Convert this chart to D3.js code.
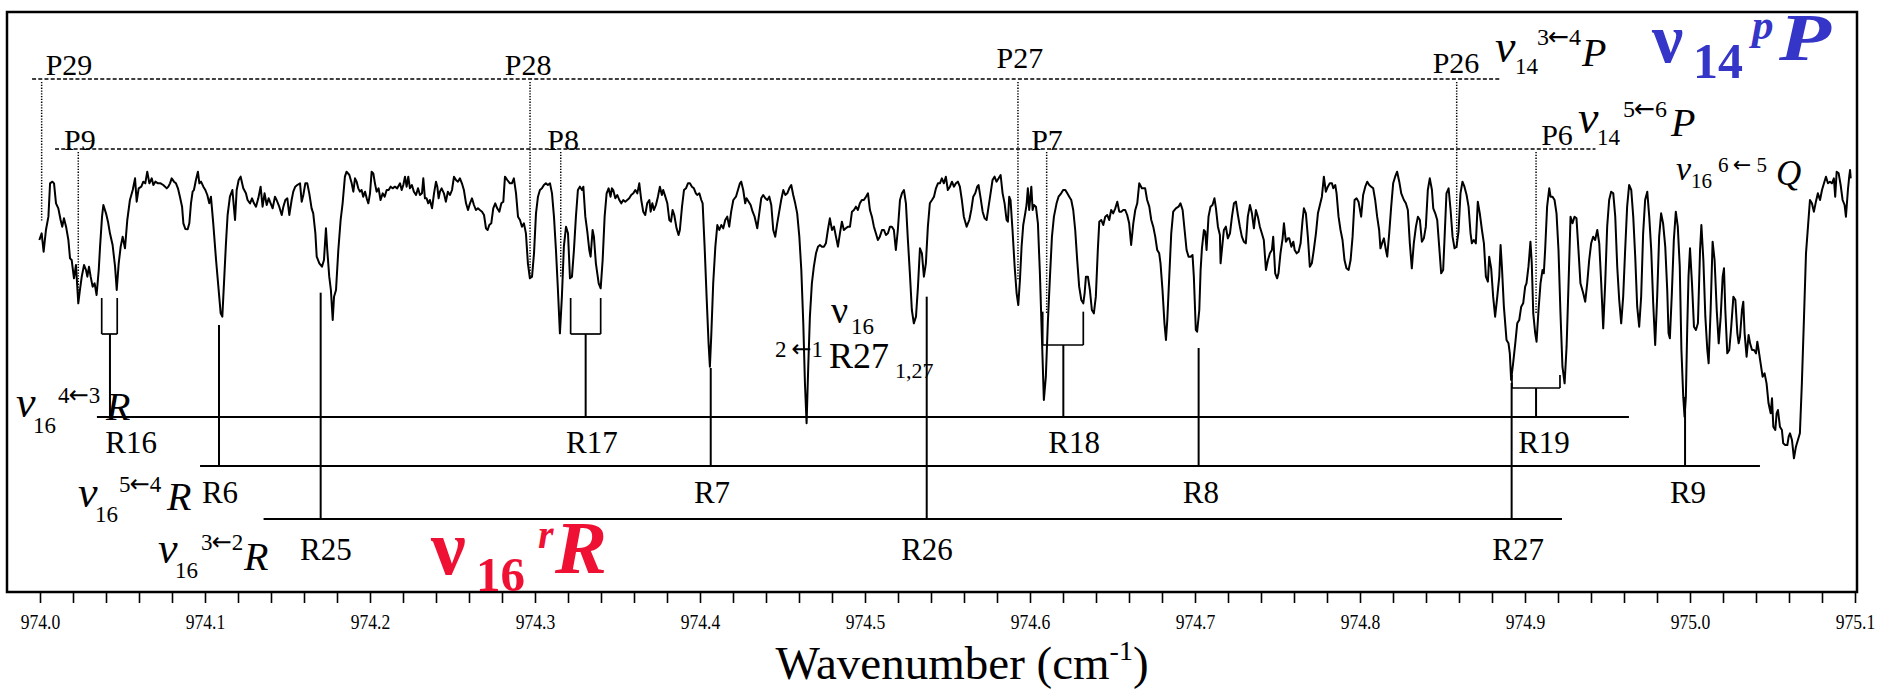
<!DOCTYPE html>
<html><head><meta charset="utf-8">
<script src="https://cdn.jsdelivr.net/npm/d3@7"></script>
<style>
body{margin:0;background:#fff;}
svg text{font-family:"Liberation Serif","Times New Roman",serif;}
</style></head><body>
<svg id="chart" width="1889" height="690"></svg>
<script>
// ---------------- DATA ----------------
// spectrum: [wavenumber (cm-1), relative transmission (arb. units)]
const spectrum = [
[973.9996,75],[974.0010,77],[974.0022,71.5],[974.0036,78],[974.0051,82],[974.0061,92],[974.0075,92.5],[974.0085,92],[974.0097,86],[974.0111,84.5],[974.0125,81],[974.0135,79],[974.0145,81.5],[974.0158,79],[974.0172,75],[974.0182,69.5],[974.0192,69],[974.0206,63.5],[974.0218,67.5],[974.0232,56],[974.0242,60],[974.0253,64],[974.0267,67.5],[974.0279,66],[974.0287,64],[974.0297,67],[974.0307,64],[974.0319,61],[974.0331,62],[974.0343,58.5],[974.0356,66],[974.0364,73],[974.0376,82],[974.0384,85.5],[974.0400,83],[974.0412,80.5],[974.0424,77],[974.0440,73.5],[974.0455,67],[974.0465,60],[974.0477,68],[974.0489,73],[974.0501,76],[974.0515,72.5],[974.0529,81],[974.0545,87],[974.0562,90],[974.0576,93.5],[974.0586,86.5],[974.0598,90.5],[974.0614,91],[974.0626,92.5],[974.0638,92],[974.0650,95.5],[974.0663,92],[974.0677,93.5],[974.0687,91.5],[974.0699,92.5],[974.0715,92],[974.0731,92],[974.0747,91.5],[974.0758,91],[974.0768,90.5],[974.0778,91],[974.0788,92],[974.0798,93.5],[974.0812,92.5],[974.0824,92],[974.0836,90.5],[974.0848,88],[974.0861,85],[974.0869,80],[974.0881,78.3],[974.0895,78.2],[974.0905,80],[974.0915,86],[974.0925,89.5],[974.0933,90],[974.0945,93],[974.0957,95.5],[974.0966,92],[974.0976,92.5],[974.0990,91],[974.1002,90],[974.1014,88.5],[974.1026,86],[974.1036,88],[974.1050,80],[974.1067,69],[974.1081,61],[974.1095,53],[974.1105,52],[974.1115,62],[974.1127,74],[974.1137,82.5],[974.1151,88],[974.1166,90],[974.1182,81],[974.1192,90],[974.1204,93],[974.1216,94],[974.1232,90.5],[974.1248,89],[974.1258,87],[974.1273,86],[974.1285,87.5],[974.1297,86],[974.1309,85],[974.1323,87.5],[974.1337,91],[974.1349,85],[974.1361,89],[974.1374,85.5],[974.1386,87.5],[974.1398,86],[974.1410,84.5],[974.1424,88],[974.1434,87],[974.1450,85],[974.1465,82.5],[974.1475,85],[974.1487,87],[974.1499,87.5],[974.1511,82.5],[974.1525,87],[974.1535,89.5],[974.1547,91],[974.1559,91.5],[974.1576,92],[974.1586,86.5],[974.1596,88.5],[974.1608,92],[974.1620,92],[974.1632,89],[974.1646,84.5],[974.1656,83],[974.1669,77],[974.1677,70],[974.1693,68],[974.1709,67],[974.1721,69],[974.1733,78.5],
[974.1741,72],[974.1753,64],[974.1763,60],[974.1774,51],[974.1782,58],[974.1794,60],[974.1808,72],[974.1822,81],[974.1834,86],[974.1848,94],[974.1858,95.5],[974.1875,94.5],[974.1889,92],[974.1899,89.5],[974.1909,93.5],[974.1919,92.5],[974.1929,90.5],[974.1939,89.5],[974.1949,90],[974.1959,88],[974.1970,89.5],[974.1980,87.5],[974.1990,86],[974.2000,89],[974.2010,95.5],[974.2020,95],[974.2030,92],[974.2040,89.5],[974.2052,90.5],[974.2064,87],[974.2077,89],[974.2089,88],[974.2101,90],[974.2113,90],[974.2125,91],[974.2137,90.5],[974.2151,91],[974.2165,90.5],[974.2182,92],[974.2192,90],[974.2202,91.5],[974.2212,94],[974.2222,91],[974.2232,94],[974.2242,90.5],[974.2254,91.5],[974.2266,89.5],[974.2279,88.5],[974.2291,90.5],[974.2303,88.5],[974.2315,89],[974.2323,93.5],[974.2333,87.5],[974.2343,87.5],[974.2353,86],[974.2363,87],[974.2376,84.5],[974.2388,89],[974.2400,92.5],[974.2408,91],[974.2416,87.5],[974.2424,89.5],[974.2434,90.5],[974.2448,89],[974.2460,86.5],[974.2472,89.5],[974.2485,88.5],[974.2497,90],[974.2509,94],[974.2521,93],[974.2533,92.5],[974.2545,93.5],[974.2557,92],[974.2569,90],[974.2582,86],[974.2594,84],[974.2606,86],[974.2618,87.5],[974.2630,85.5],[974.2642,84],[974.2654,84.5],[974.2666,84],[974.2679,83.5],[974.2691,82.5],[974.2703,78.5],[974.2713,78],[974.2723,79.5],[974.2735,80],[974.2747,84.5],[974.2759,86],[974.2771,84.5],[974.2784,83.5],[974.2796,86],[974.2808,86.5],[974.2818,94],[974.2832,93],[974.2848,92],[974.2860,92],[974.2872,93.5],[974.2885,89],[974.2897,82],[974.2909,81],[974.2921,79],[974.2933,80],[974.2945,77],[974.2957,68],[974.2969,63.5],[974.2982,64],[974.2994,71],[974.3006,83],[974.3018,88],[974.3030,90],[974.3042,90.5],[974.3054,91.5],[974.3066,92],[974.3078,91.5],[974.3091,92],[974.3103,89],[974.3115,82],[974.3127,72],[974.3139,60],[974.3151,47],[974.3163,58],[974.3175,73],[974.3188,79],[974.3200,77],[974.3212,63.5],[974.3224,64],[974.3236,72],[974.3248,82],[974.3260,90],[974.3272,91],[974.3285,90],[974.3293,91],[974.3305,82],[974.3317,77.5],[974.3329,72],[974.3337,70],[974.3349,78],[974.3357,76],[974.3369,68],[974.3386,62],[974.3398,60.5],[974.3410,69],[974.3422,82],[974.3434,89],[974.3446,90.5],[974.3458,88],[974.3466,90.5],[974.3474,90],[974.3487,87.5],[974.3499,88.5],[974.3511,87],[974.3523,86],[974.3535,87],[974.3547,86.5],[974.3559,87],[974.3571,87.5],[974.3583,88.5],[974.3596,89],[974.3608,90],[974.3620,89],[974.3632,92],[974.3644,87],[974.3656,83.5],[974.3668,82.5],[974.3680,86],
[974.3693,87],[974.3701,83.5],[974.3711,86],[974.3721,84],[974.3733,85.5],[974.3745,88],[974.3757,91],[974.3769,88.5],[974.3777,90],[974.3790,88],[974.3802,86],[974.3814,81],[974.3824,80.5],[974.3834,84],[974.3844,82.5],[974.3858,78.5],[974.3870,76.5],[974.3878,78],[974.3891,85],[974.3903,90],[974.3915,90.5],[974.3927,92],[974.3939,92],[974.3951,91],[974.3963,90.5],[974.3975,89],[974.3983,88.5],[974.3996,89],[974.4008,87],[974.4016,86],[974.4028,73],[974.4040,58],[974.4052,44],[974.4060,37],[974.4068,46],[974.4080,62],[974.4093,73],[974.4105,79.5],[974.4117,78],[974.4129,79.5],[974.4141,78.5],[974.4153,81],[974.4165,82],[974.4177,79],[974.4189,83.5],[974.4202,87],[974.4218,88],[974.4230,90],[974.4242,92],[974.4250,92.5],[974.4262,90],[974.4274,86],[974.4282,87.5],[974.4295,86.5],[974.4307,85.5],[974.4319,83.5],[974.4331,82],[974.4347,78.5],[974.4359,83],[974.4371,87.5],[974.4383,88.5],[974.4396,87.5],[974.4408,87],[974.4420,88],[974.4432,85.5],[974.4444,78],[974.4456,76],[974.4468,80],[974.4480,83.5],[974.4492,87],[974.4505,90],[974.4517,88.5],[974.4529,89],[974.4541,90.5],[974.4553,91.5],[974.4565,88.5],[974.4577,86],[974.4589,83],[974.4602,76],[974.4614,66],[974.4626,50],[974.4636,32],[974.4646,20],[974.4656,37],[974.4666,52],[974.4678,62],[974.4690,67],[974.4703,71],[974.4715,73],[974.4727,73.5],[974.4739,73],[974.4751,73],[974.4763,74],[974.4775,78],[974.4787,81.5],[974.4800,78],[974.4812,79],[974.4824,76],[974.4836,73],[974.4848,77],[974.4860,80.5],[974.4872,78],[974.4884,78.5],[974.4896,79],[974.4909,79],[974.4921,83.5],[974.4933,84],[974.4945,85],[974.4957,84],[974.4969,86],[974.4981,87],[974.4993,87],[974.5006,88],[974.5018,89],[974.5030,84],[974.5042,82],[974.5054,79],[974.5066,77],[974.5078,75],[974.5090,76],[974.5103,78],[974.5115,78],[974.5127,76.5],[974.5139,77],[974.5151,79],[974.5163,79],[974.5175,78],[974.5187,72],[974.5199,78],[974.5212,87],[974.5224,89],[974.5236,90],[974.5248,86],[974.5260,75],[974.5272,65],[974.5284,54],[974.5296,50],[974.5309,52],[974.5321,61],[974.5333,72.5],[974.5345,71],[974.5357,64],[974.5369,68],[974.5381,79],[974.5393,86],[974.5406,87],[974.5418,88],[974.5430,90.5],[974.5442,92],[974.5454,92],[974.5466,93.5],[974.5478,92],[974.5490,94],[974.5502,90],[974.5515,91],[974.5527,92.5],[974.5539,91],[974.5551,92],[974.5563,92.5],
[974.5575,91],[974.5587,87],[974.5599,82],[974.5616,79],[974.5632,81],[974.5644,84],[974.5656,88],[974.5668,89],[974.5680,91],[974.5688,91.5],[974.5701,87.5],[974.5713,83.5],[974.5725,81.5],[974.5737,81],[974.5749,85],[974.5761,89],[974.5773,93],[974.5785,94],[974.5797,92.5],[974.5810,93.5],[974.5822,94.5],[974.5834,89],[974.5846,86],[974.5858,81],[974.5866,80.5],[974.5874,88],[974.5882,87],[974.5894,78],[974.5907,67],[974.5919,59],[974.5929,55.5],[974.5939,63],[974.5949,73],[974.5959,79.5],[974.5971,83],[974.5979,85.5],[974.5987,90.5],[974.5995,84],[974.6008,91],[974.6016,84],[974.6024,85.5],[974.6036,85],[974.6048,80],[974.6060,65],[974.6072,46],[974.6084,27],[974.6096,34],[974.6108,50],[974.6121,64],[974.6133,76],[974.6145,82],[974.6161,86],[974.6173,88],[974.6189,89],[974.6201,90],[974.6214,90],[974.6226,89],[974.6238,88],[974.6250,87],[974.6262,84],[974.6274,78],[974.6286,69],[974.6298,61],[974.6311,57],[974.6323,56],[974.6331,59],[974.6339,64],[974.6351,64],[974.6363,60],[974.6375,54],[974.6387,53],[974.6399,58],[974.6411,72],[974.6420,80.5],[974.6432,81],[974.6444,79.5],[974.6456,82],[974.6468,82.5],[974.6480,81],[974.6492,84],[974.6504,83],[974.6517,84.5],[974.6529,86.5],[974.6541,83.5],[974.6553,83.5],[974.6565,84],[974.6577,84],[974.6589,82.5],[974.6601,80],[974.6613,73.5],[974.6626,80],[974.6638,84],[974.6650,86],[974.6662,92],[974.6678,90.5],[974.6690,90.5],[974.6698,90.5],[974.6710,87],[974.6723,85],[974.6735,81],[974.6747,79],[974.6759,76],[974.6771,72],[974.6783,71],[974.6791,68],[974.6803,60],[974.6815,50],[974.6824,45],[974.6832,51],[974.6844,64],[974.6856,77],[974.6868,83.5],[974.6884,84.5],[974.6900,85],[974.6912,86],[974.6925,84],[974.6937,78],[974.6949,72],[974.6961,70],[974.6973,70],[974.6985,70.5],[974.6993,64],[974.7005,48],[974.7013,47.5],[974.7026,54],[974.7034,66],[974.7042,72.5],[974.7054,78],[974.7062,77.5],[974.7070,72],[974.7082,82],[974.7094,85],[974.7106,85.5],[974.7118,87.5],[974.7127,84.5],[974.7139,79],[974.7151,76.5],[974.7155,68],[974.7163,72],[974.7175,78],[974.7187,79],[974.7199,75.5],[974.7212,77],[974.7224,82],[974.7236,86],[974.7248,86.5],[974.7260,82.5],[974.7272,79],[974.7284,76],[974.7296,74.5],[974.7308,74],[974.7320,82],[974.7333,85.5],[974.7345,83],[974.7357,78.5],[974.7369,84],[974.7381,82],[974.7393,79],[974.7405,77],[974.7417,75],[974.7430,66],[974.7442,69],[974.7454,71],[974.7466,72],[974.7474,76],[974.7486,65],[974.7498,63.5],[974.7506,65],[974.7518,71],[974.7531,75.5],[974.7539,80],[974.7551,74.5],[974.7563,75.5],
[974.7571,75.5],[974.7584,73],[974.7596,74.5],[974.7604,72],[974.7616,71],[974.7628,71.5],[974.7640,74],[974.7652,81],[974.7660,84.5],[974.7672,83],[974.7684,76],[974.7696,67],[974.7708,68],[974.7720,72],[974.7733,77],[974.7745,83],[974.7757,85.5],[974.7769,88],[974.7781,94],[974.7793,89.5],[974.7805,91],[974.7817,92],[974.7830,92],[974.7838,90.5],[974.7850,91.5],[974.7858,89],[974.7870,82],[974.7882,78],[974.7894,75],[974.7906,69],[974.7918,66.5],[974.7931,66],[974.7943,69],[974.7955,76],[974.7967,87],[974.7979,87.5],[974.7991,86.5],[974.8007,82],[974.8019,88.5],[974.8032,91],[974.8044,92.5],[974.8056,91.5],[974.8068,91],[974.8080,90.5],[974.8092,87],[974.8104,82],[974.8116,78],[974.8124,72.5],[974.8137,74.5],[974.8145,75.5],[974.8157,72],[974.8165,70],[974.8177,77],[974.8189,85],[974.8201,92],[974.8213,94],[974.8225,95.5],[974.8238,92.5],[974.8250,89],[974.8266,87],[974.8278,86],[974.8290,84],[974.8302,74],[974.8314,66.5],[974.8326,74],[974.8339,79],[974.8351,82],[974.8363,81],[974.8375,74.5],[974.8387,75.5],[974.8399,79],[974.8411,90],[974.8423,93.5],[974.8436,90],[974.8444,84.5],[974.8456,83],[974.8468,81],[974.8480,73],[974.8492,65],[974.8504,66],[974.8512,75],[974.8524,89],[974.8537,90.5],[974.8549,84],[974.8561,76],[974.8573,72.5],[974.8585,73],[974.8597,77.5],[974.8609,89],[974.8621,92.5],[974.8633,91],[974.8646,88.5],[974.8658,85],[974.8670,77],[974.8678,74],[974.8690,75],[974.8702,74],[974.8714,86.5],[974.8726,83],[974.8739,78],[974.8751,74],[974.8763,64],[974.8775,62.5],[974.8783,70],[974.8795,66.5],[974.8807,58],[974.8819,52],[974.8832,58],[974.8844,64],[974.8852,73.5],[974.8860,67],[974.8872,55],[974.8888,45],[974.8900,44],[974.8908,41],[974.8916,33],[974.8928,38],[974.8941,44],[974.8953,50],[974.8965,51],[974.8977,55],[974.8989,56],[974.9001,61],[974.9009,62],[974.9021,67],[974.9033,74.5],[974.9041,68],[974.9050,53],[974.9062,47],[974.9070,44.5],[974.9082,54],[974.9094,62],[974.9106,66],[974.9114,65],[974.9122,72],[974.9134,85],[974.9147,90.5],[974.9155,88],[974.9167,88],[974.9179,87],[974.9191,83],[974.9203,72],[974.9215,53],[974.9227,37],[974.9240,32],[974.9252,43],[974.9264,62],[974.9276,82],[974.9288,80],[974.9300,82],[974.9312,81.5],[974.9324,72],[974.9336,62],[974.9353,59],[974.9365,56.5],[974.9377,62],[974.9389,69],[974.9401,74],[974.9413,76],[974.9425,75],[974.9438,78],[974.9450,74],[974.9462,62],[974.9474,48.5],[974.9486,62],[974.9498,79],[974.9510,87],
[974.9522,89.5],[974.9535,89],[974.9547,82],[974.9559,67],[974.9571,57],[974.9583,50],[974.9595,58],[974.9607,72],[974.9619,85],[974.9631,91.5],[974.9644,90],[974.9656,82],[974.9668,70],[974.9680,55],[974.9692,49],[974.9704,58],[974.9716,77],[974.9728,87],[974.9741,89.5],[974.9753,82],[974.9765,72],[974.9777,56],[974.9789,43.5],[974.9801,58],[974.9813,76],[974.9825,83],[974.9837,80],[974.9850,73],[974.9862,60],[974.9870,47],[974.9878,45.5],[974.9890,59],[974.9902,75],[974.9914,83.5],[974.9926,79],[974.9938,67],[974.9948,42],[974.9959,28],[974.9967,22],[974.9975,28],[974.9983,48],[974.9991,64],[975.0000,72.5],[975.0012,62],[975.0024,49],[975.0036,48],[975.0048,50],[975.0061,72],[975.0069,79.5],[975.0081,69],[975.0093,52],[975.0105,42],[975.0113,38],[975.0125,54],[975.0137,74.5],[975.0149,69],[975.0162,54],[975.0174,44],[975.0186,52],[975.0198,64],[975.0206,66.5],[975.0214,54],[975.0226,41],[975.0238,42],[975.0250,49],[975.0263,58],[975.0275,57],[975.0287,47],[975.0295,44],[975.0303,46],[975.0315,54],[975.0323,56.5],[975.0331,47],[975.0343,40],[975.0355,46.5],[975.0364,44],[975.0376,42],[975.0388,42],[975.0400,41],[975.0408,44.5],[975.0416,42],[975.0428,38],[975.0440,34],[975.0452,35],[975.0464,32],[975.0476,26],[975.0489,23],[975.0497,27.5],[975.0505,19],[975.0517,18],[975.0525,23],[975.0533,24],[975.0545,19],[975.0557,18],[975.0565,14],[975.0577,13.5],[975.0590,13.5],[975.0598,16],[975.0606,17],[975.0618,15],[975.0630,9.5],[975.0642,13],[975.0654,15],[975.0666,17],[975.0678,32],[975.0691,52],[975.0703,71],[975.0715,79],[975.0727,87],[975.0739,86],[975.0751,83.5],[975.0763,86.5],[975.0775,89],[975.0788,87],[975.0800,90],[975.0812,92],[975.0824,94],[975.0836,92],[975.0848,92.5],[975.0860,92],[975.0872,93.5],[975.0880,88],[975.0889,95.5],[975.0901,95],[975.0913,91.5],[975.0925,87],[975.0937,85.5],[975.0945,82],[975.0957,90],[975.0965,94],[975.0970,96],[975.0974,93.5]
];

const tickLabels = ["974.0","974.1","974.2","974.3","974.4","974.5","974.6","974.7","974.8","974.9","975.0","975.1"];

// nu14 3<-4 P assignments (upper dashed row): line wavenumber, tip level
const pUpperRange = [973.9952, 974.8855];
const pUpper = [
  {label:"P29", wn:974.0010, lw:974.0176, tip:80.4},
  {label:"P28", wn:974.2970, lw:974.2958, tip:63.9},
  {label:"P27", wn:974.5927, lw:974.5939, tip:63.0},
  {label:"P26", wn:974.8586, lw:974.8582, tip:72.6}
];
// nu14 5<-6 P assignments (lower dashed row)
const pLowerRange = [974.0091, 974.9427];
const pLower = [
  {label:"P9", wn:974.0232, lw:974.0242, tip:59.1},
  {label:"P8", wn:974.3156, lw:974.3170, tip:63.6},
  {label:"P7", wn:974.6101, lw:974.6103, tip:53.1},
  {label:"P6", wn:974.9067, lw:974.9194, tip:53.1}
];
// nu16 4<-3 R (doublets, bracketed)
const r43Range = [974.0345, 974.9630];
const r43 = [
  {label:"R16", a:974.0374, b:974.0468, stem:974.0424, top:57.6, bar:46.8, lw:974.0552},
  {label:"R17", a:974.3216, b:974.3398, stem:974.3307, top:57.6, bar:46.8, lw:974.3345},
  {label:"R18", a:974.6077, b:974.6323, stem:974.6202, top:53.5, bar:43.5, lw:974.6267},
  {label:"R19", a:974.8921, b:974.9212, stem:974.9067, top:34.5, bar:30.6, lw:974.9115}
];
// nu16 5<-4 R
const r54Range = [974.0970, 975.0424];
const r54 = [
  {label:"R6", wn:974.1085, top:49.5, lw:974.1091},
  {label:"R7", wn:974.4065, top:36.6, lw:974.4073},
  {label:"R8", wn:974.7022, top:42.6, lw:974.7036},
  {label:"R9", wn:974.9970, top:27.9, lw:974.9988}
];
// nu16 3<-2 R
const r32Range = [974.1355, 974.9224];
const r32 = [
  {label:"R25", wn:974.1701, top:59.2, lw:974.1733},
  {label:"R26", wn:974.5374, top:58.0, lw:974.5376},
  {label:"R27", wn:974.8919, top:32.1, lw:974.8958}
];

// ---------------- LAYOUT ----------------
const frame = {x0:7, y0:12, x1:1857, y1:592};
const svg = d3.select("#chart");
const x = d3.scaleLinear().domain([974.0, 975.1]).range([40, 1855]);
const y = d3.scaleLinear().domain([0, 102]).range([490, 150]);

const rowY = {pUpper:79, pLower:149, r43:417, r54:466, r32:519};
const labelY = {pUpper:75, pLower:150, r43:453, r54:503, r32:560};
const labelNudge = {P27:-7, P26:-2, P6:-5};

// frame
svg.append("rect").attr("x",frame.x0).attr("y",frame.y0)
  .attr("width",frame.x1-frame.x0).attr("height",frame.y1-frame.y0)
  .attr("fill","none").attr("stroke","#000").attr("stroke-width",2.5);

// x axis
const minorTicks = d3.range(0, 56).map(i => +(974 + i*0.02).toFixed(2));
const axis = d3.axisBottom(x).tickValues(minorTicks).tickSize(11).tickSizeOuter(0).tickPadding(12)
  .tickFormat(d => { const k = Math.round((d-974)*10); return Math.abs((d-974)*10 - k) < 1e-6 ? tickLabels[k] : ""; });
const ag = svg.append("g").attr("transform",`translate(0,${frame.y1})`).call(axis);
ag.select(".domain").remove();
ag.selectAll(".tick line").attr("stroke","#000").attr("stroke-width",1.6);
ag.selectAll(".tick text").attr("font-size",20).attr("fill","#000")
  .attr("font-family","Liberation Serif").attr("transform","scale(0.88,1)");

// axis title
const t = svg.append("text").attr("x",962).attr("y",679).attr("text-anchor","middle")
  .attr("font-size",47).attr("fill","#000");
t.append("tspan").text("Wavenumber (cm");
t.append("tspan").attr("font-size",28).attr("dy",-19).text("-1");
t.append("tspan").attr("dy",19).text(")");

// spectrum
svg.append("path").datum(spectrum)
  .attr("d", d3.line().x(d=>x(d[0])).y(d=>y(d[1])))
  .attr("fill","none").attr("stroke","#000").attr("stroke-width",2).attr("stroke-linejoin","round");

// dashed P rows
function pRow(range, items, ry, ly) {
  svg.append("line").attr("x1",x(range[0])).attr("x2",x(range[1])).attr("y1",ry).attr("y2",ry)
    .attr("stroke","#000").attr("stroke-width",1.7).attr("stroke-dasharray","4,2.2");
  items.forEach(d => {
    svg.append("line").attr("x1",x(d.wn)).attr("x2",x(d.wn)).attr("y1",ry+3).attr("y2",y(d.tip))
      .attr("stroke","#000").attr("stroke-width",1.5).attr("stroke-dasharray","1.3,1.5");
    svg.append("text").attr("x",x(d.lw)).attr("y",ly+(labelNudge[d.label]||0)).attr("text-anchor","middle")
      .attr("font-size",30).attr("fill","#000").text(d.label);
  });
}
pRow(pUpperRange, pUpper, rowY.pUpper, labelY.pUpper);
pRow(pLowerRange, pLower, rowY.pLower, labelY.pLower);

// R rows
function hline(range, ry) {
  svg.append("line").attr("x1",x(range[0])).attr("x2",x(range[1])).attr("y1",ry).attr("y2",ry)
    .attr("stroke","#000").attr("stroke-width",2);
}
function vline(xx, y1, y2, w) {
  svg.append("line").attr("x1",xx).attr("x2",xx).attr("y1",y1).attr("y2",y2)
    .attr("stroke","#000").attr("stroke-width",w||2);
}
function rlabel(txt, wn, ly) {
  svg.append("text").attr("x",x(wn)).attr("y",ly).attr("text-anchor","middle")
    .attr("font-size",31).attr("fill","#000").text(txt);
}
hline(r43Range, rowY.r43);
hline(r54Range, rowY.r54);
hline(r32Range, rowY.r32);
r43.forEach(d => {
  vline(x(d.a), y(d.top), y(d.bar), 1.7);
  vline(x(d.b), y(d.top), y(d.bar), 1.7);
  svg.append("line").attr("x1",x(d.a)).attr("x2",x(d.b)).attr("y1",y(d.bar)).attr("y2",y(d.bar))
    .attr("stroke","#000").attr("stroke-width",1.7);
  vline(x(d.stem), y(d.bar), rowY.r43, 2);
  rlabel(d.label, d.lw, labelY.r43);
});
r54.forEach(d => { vline(x(d.wn), y(d.top), rowY.r54, 2); rlabel(d.label, d.lw, labelY.r54); });
r32.forEach(d => { vline(x(d.wn), y(d.top), rowY.r32, 2); rlabel(d.label, d.lw, labelY.r32); });

// rich labels: one <text> per label, pieces as positioned tspans; arrows use DejaVu Sans glyph
function rich(parts, color) {
  const tx = svg.append("text").attr("fill", color || "#000");
  parts.forEach(p => {
    p.t.split(/(←)/).forEach((s, i) => {
      if (!s) return;
      const ts = tx.append("tspan").text(s)
        .attr("font-size", p.s).attr("font-style", p.i ? "italic" : "normal")
        .attr("font-weight", p.b ? "bold" : "normal");
      if (i === 0) ts.attr("x", p.x).attr("y", p.y);
      if (s === "←") ts.attr("font-family","DejaVu Sans").attr("font-size",p.s*1.05).attr("font-style","normal").attr("dx",-1);
      if (p.tl) ts.attr("textLength", p.tl).attr("lengthAdjust","spacingAndGlyphs");
    });
  });
}
// nu14 3<-4 P
rich([{t:"ν",x:1495,y:62,s:46,i:1},{t:"14",x:1515,y:74,s:23},{t:"3←4",x:1537,y:45,s:24},{t:"P",x:1582,y:66,s:40,i:1}]);
// nu14 5<-6 P
rich([{t:"ν",x:1578,y:133,s:46,i:1},{t:"14",x:1597,y:145,s:23},{t:"5←6",x:1623,y:117,s:24},{t:"P",x:1671,y:136,s:40,i:1}]);
// nu16 6<-5 Q
rich([{t:"ν",x:1676,y:180,s:34,i:1},{t:"16",x:1691,y:188,s:21},{t:"6 ← 5",x:1718,y:172,s:21},{t:"Q",x:1776,y:185,s:35,i:1}]);
// left labels
rich([{t:"ν",x:16,y:417,s:44,i:1},{t:"16",x:33,y:433,s:23},{t:"4←3",x:58,y:403,s:23},{t:"R",x:106,y:420,s:40,i:1}]);
rich([{t:"ν",x:78,y:507,s:44,i:1},{t:"16",x:95,y:522,s:23},{t:"5←4",x:119,y:492,s:23},{t:"R",x:167,y:510,s:40,i:1}]);
rich([{t:"ν",x:158,y:563,s:44,i:1},{t:"16",x:175,y:578,s:23},{t:"3←2",x:201,y:550,s:23},{t:"R",x:244,y:570,s:40,i:1}]);
// nu16 2<-1 R27_{1,27}
rich([{t:"ν",x:831,y:323,s:38},{t:"16",x:851,y:334,s:23},{t:"2 ←1",x:775,y:357,s:23},{t:"R27",x:829,y:368,s:36},{t:"1,27",x:895,y:378,s:22}]);
// big blue nu14 pP
rich([{t:"ν",x:1652,y:62,s:70,b:1},{t:"14",x:1693,y:78,s:50,b:1},{t:"p",x:1752,y:39,s:43,b:1,i:1},{t:"P",x:1779,y:60,s:67,b:1,i:1,tl:52}], "#3535c8");
// big red nu16 rR
rich([{t:"ν",x:431,y:574,s:78,b:1},{t:"16",x:476,y:591,s:49,b:1},{t:"r",x:538,y:548,s:40,b:1,i:1},{t:"R",x:555,y:573,s:74,b:1,i:1,tl:52}], "#ee1133");
</script>
</body></html>
